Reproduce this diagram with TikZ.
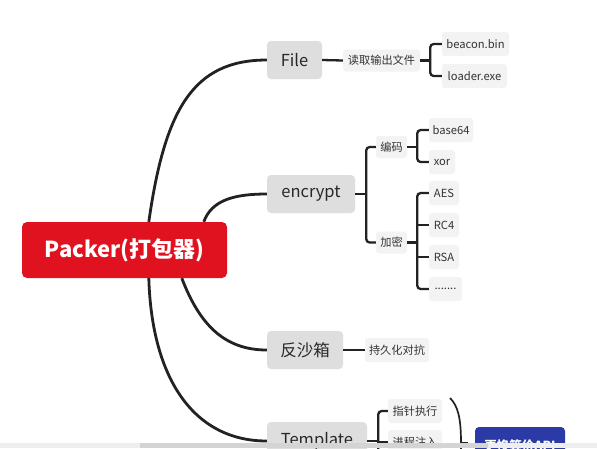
\documentclass[tikz,border=0pt]{standalone}
\usepackage{fontspec}
\setmainfont{Noto Sans CJK SC}
\definecolor{rootred}{RGB}{224,18,32}
\definecolor{lonegray}{RGB}{222,222,222}
\definecolor{ltwogray}{RGB}{243,243,243}
\definecolor{txtdark}{RGB}{40,40,40}
\definecolor{txtmid}{RGB}{52,52,52}
\definecolor{linec}{RGB}{34,34,34}
\definecolor{apiblue}{RGB}{44,58,166}
\definecolor{barlight}{RGB}{238,238,238}
\definecolor{bardark}{RGB}{212,212,212}
\begin{document}
\begin{tikzpicture}[x=1pt,y=-1pt,
  box/.style={rounded corners=4pt, inner sep=0pt, align=center},
  rootbox/.style={box, rounded corners=5pt, fill=rootred, text=white,
    font=\fontsize{22}{26}\selectfont\bfseries},
  lvlone/.style={box, fill=lonegray, text=txtdark,
    font=\fontsize{16.5}{20}\selectfont, minimum height=38pt},
  lvltwo/.style={box, rounded corners=3pt, fill=ltwogray, text=txtmid,
    font=\fontsize{11.2}{13}\selectfont, minimum height=24pt},
  apibox/.style={box, fill=apiblue, text=white,
    font=\fontsize{12.5}{15}\selectfont\bfseries, minimum height=38pt},
  link/.style={draw=linec, line width=2.8pt},
  brk/.style={draw=linec, line width=2.3pt, rounded corners=3.5pt},
  sumline/.style={draw=linec, line width=1.7pt}]
\useasboundingbox (0,0) rectangle (597,448);
\clip (0,0) rectangle (597,448);
\fill[white] (0,0) rectangle (597,448);

% nodes
\node[rootbox, minimum width=205pt, minimum height=56pt] (packer) at (124.5,250) {Packer(打包器)};
\node[lvlone, minimum width=55pt] (file) at (294.5,60) {File};
\node[lvlone, minimum width=88pt] (enc) at (311,194) {encrypt};
\node[lvlone, minimum width=76pt] (sand) at (305,350) {反沙箱};
\node[lvlone, minimum width=100pt] (tpl) at (317,441) {Template};

\node[lvltwo, minimum width=77pt, minimum height=22pt] (read) at (381.5,60.5) {读取输出文件};
\node[lvltwo, minimum width=67pt] (bin) at (475.5,44) {beacon.bin};
\node[lvltwo, minimum width=65pt] (exe) at (474.5,76) {loader.exe};

\node[lvltwo, minimum width=31pt, minimum height=22pt] (code) at (391.5,147) {编码};
\node[lvltwo, minimum width=31pt, minimum height=22pt] (crypt) at (391.5,242.5) {加密};
\node[lvltwo, minimum width=44pt] (b64) at (451,130) {base64};
\node[lvltwo, minimum width=26pt] (xor) at (442,162) {xor};
\node[lvltwo, minimum width=30pt] (aes) at (444,193) {AES};
\node[lvltwo, minimum width=30pt] (rc4) at (444,225) {RC4};
\node[lvltwo, minimum width=30pt] (rsa) at (444,257) {RSA};
\node[lvltwo, minimum width=33pt] (dots) at (445.5,289) {.......};

\node[lvltwo, minimum width=64pt] (persist) at (397,350) {持久化对抗};

\node[lvltwo, minimum width=54pt] (ptr) at (415,411) {指针执行};
\node[lvltwo, minimum width=54pt] (inj) at (415,442) {进程注入};
\node[apibox, minimum width=90pt] (api) at (520,446) {更换等价API};

% main curves
\draw[link] ([xshift=127pt]packer.north west) .. controls +(16,-112) and +(-74,0) .. (file.west);
\draw[link] ([xshift=182pt]packer.north west) .. controls +(8,-22) and +(-32,0) .. (enc.west);
\draw[link] ([xshift=160pt]packer.south west) .. controls +(18,47) and +(-42,0) .. (sand.west);
\draw[link] ([xshift=127pt]packer.south west) .. controls +(3,102) and +(-72,0) .. (tpl.west);

% File branch
\coordinate (fv) at ([xshift=10pt]read.east);
\draw[brk] (file.east) -- (read.west);
\draw[brk] (read.east) -- (fv);
\draw[brk] (bin.west) -| (fv) |- (exe.west);

% encrypt branch
\coordinate (ev) at ([xshift=11pt]enc.east);
\draw[brk] (enc.east) -- (ev);
\draw[brk] (code.west) -| (ev) |- (crypt.west);
\coordinate (cv) at ([xshift=10pt]code.east);
\draw[brk] (code.east) -- (cv);
\draw[brk] (b64.west) -| (cv) |- (xor.west);
\coordinate (kv) at ([xshift=10pt]crypt.east);
\draw[brk] (crypt.east) -- (kv);
\draw[brk] (aes.west) -| (kv) |- (dots.west);
\draw[brk] (rc4.west -| kv) -- (rc4.west);
\draw[brk] (rsa.west -| kv) -- (rsa.west);

% sandbox branch
\draw[brk] (sand.east) -- (persist.west);

% template branch
\coordinate (tv) at ([xshift=11pt]tpl.east);
\coordinate (tend) at ([yshift=-40pt]tv);
\draw[brk] (tpl.east) -- (tv);
\draw[brk] (ptr.west) -| (tv) -- (tend);
\draw[brk] (tv |- inj.west) -- (inj.west);

% summary bracket
\coordinate (sumtop) at (450,398);
\coordinate (summid) at (461,443);
\coordinate (sumbot) at (450,488);
\coordinate (sumtick) at ([xshift=7pt]summid);
\draw[sumline] (sumtop) .. controls +(8,8) and +(0,-25) .. (summid) .. controls +(0,25) and +(8,-8) .. (sumbot);
\draw[sumline] (summid) -- (sumtick);

% bottom bar
\fill[barlight] (0,443) rectangle (597,448);
\fill[bardark] (140,443) rectangle (488,448);
\end{tikzpicture}
\end{document}
